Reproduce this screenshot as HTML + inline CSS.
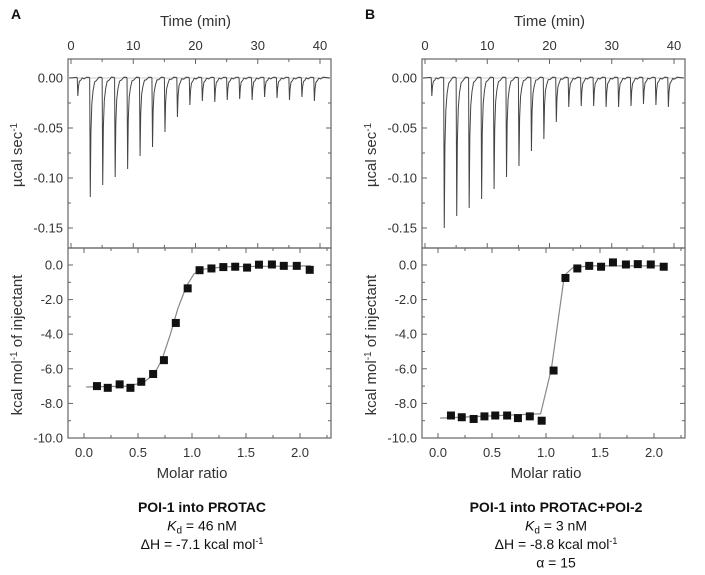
<!DOCTYPE html>
<html><head><meta charset="utf-8">
<style>
body{margin:0;background:#fff;}
svg{display:block;font-family:"Liberation Sans",sans-serif;}
.tk{font-size:13px;fill:#333;}
.ttl{font-size:15px;fill:#333;}
.cap{font-size:14px;fill:#111;}
</style></head>
<body>
<svg id="chart" width="705" height="575" viewBox="0 0 705 575" xmlns="http://www.w3.org/2000/svg"></svg>
<script>
// ---- data ----
const injTimes = [1,3,5,7,9,11,13,15,17,19,21,23,25,27,29,31,33,35,37,39];
const peaksA = [-0.018,-0.119,-0.107,-0.099,-0.091,-0.078,-0.069,-0.054,-0.039,-0.027,-0.023,-0.024,-0.022,-0.021,-0.022,-0.019,-0.020,-0.022,-0.019,-0.023];
const peaksB = [-0.018,-0.150,-0.138,-0.130,-0.121,-0.111,-0.099,-0.088,-0.073,-0.061,-0.044,-0.029,-0.028,-0.028,-0.029,-0.029,-0.028,-0.026,-0.027,-0.029];
const molarRatio = [0.12,0.22,0.33,0.43,0.53,0.64,0.74,0.85,0.96,1.07,1.18,1.29,1.40,1.51,1.62,1.74,1.85,1.97,2.09];
const heatA = [-7.0,-7.1,-6.9,-7.1,-6.75,-6.3,-5.5,-3.35,-1.35,-0.3,-0.2,-0.12,-0.1,-0.15,0.02,0.03,-0.05,-0.05,-0.28];
const heatB = [-8.7,-8.8,-8.9,-8.75,-8.7,-8.7,-8.85,-8.75,-9.0,-6.1,-0.75,-0.2,-0.05,-0.1,0.15,0.03,0.05,0.03,-0.1];
const fitXA = [0.02,0.4,0.55,0.65,0.72,0.8,0.87,0.95,1.02,1.1,1.3,2.1];
const fitYA = [-7.05,-7.0,-6.8,-6.3,-5.5,-4.0,-2.5,-1.2,-0.5,-0.25,-0.1,-0.05];
const fitXB = [0.02,0.95,1.05,1.17,1.25,1.4,2.1];
const fitYB = [-8.85,-8.6,-6.0,-0.6,-0.15,-0.05,-0.05];
const timeTicks = [0,10,20,30,40];
const powerTicks = [0,-0.05,-0.10,-0.15];
const heatTicks = [0,-2,-4,-6,-8,-10];
const ratioTicks = [0,0.5,1.0,1.5,2.0];

const svg = document.getElementById('chart');
const NS = 'http://www.w3.org/2000/svg';
function mk(tag, attrs, parent){
  const e = document.createElementNS(NS, tag);
  for (const k in attrs) e.setAttribute(k, attrs[k]);
  (parent||svg).appendChild(e);
  return e;
}

function panel(dx, letter, peaks, heat, fx, fy, capLines, key){
  const g = mk('g', {});
  
  
  const L = 68+dx, R = 331+dx, T = 59, M = 248, B = 438;
  const tx = t => 71+dx + t*(249/40);
  const py = v => 78 + (-v)*(150/0.15);
  const rx = r => 84+dx + r*(216/2);
  const hy = h => 265 + (-h)*(173/10);

  let t = mk('text', {x:11+dx, y:19, 'font-size':14, 'font-weight':'bold', fill:'#111'}, g);
  t.textContent = letter;
  
  

  let f1 = mk('rect', {x:L, y:T, width:R-L, height:M-T, fill:'none', stroke:'#666', 'stroke-width':1.2}, g);
  
  
  let f2 = mk('rect', {x:L, y:M, width:R-L, height:B-M, fill:'none', stroke:'#666', 'stroke-width':1.2}, g);
  
  

  for (let v=0; v<=40; v+=5){
    const x = tx(v), len = v%10===0 ? 5 : 3;
    mk('line', {x1:x, x2:x, y1:T, y2:T+len, stroke:'#666'}, g);
    mk('line', {x1:x, x2:x, y1:M, y2:M-len, stroke:'#666'}, g);
  }
  timeTicks.forEach(v=>{
    const e = mk('text', {x:tx(v), y:50, 'text-anchor':'middle', class:'tk'}, g);
    e.textContent = v;
    
    
  });
  t = mk('text', {x:tx(20), y:26, 'text-anchor':'middle', class:'ttl'}, g);
  t.textContent = 'Time (min)';
  
  

  for (let v=0.0; v>=-0.17; v-=0.025){
    const y = py(v); if (y>M-2) break;
    const len = Math.abs(Math.round(v*1000)%50)===0 ? 5 : 3;
    mk('line', {x1:L, x2:L+len, y1:y, y2:y, stroke:'#666'}, g);
    mk('line', {x1:R, x2:R-len, y1:y, y2:y, stroke:'#666'}, g);
  }
  powerTicks.forEach(v=>{
    const e = mk('text', {x:L-5, y:py(v)+4.5, 'text-anchor':'end', class:'tk'}, g);
    e.textContent = v.toFixed(2);
    
    
  });
  t = mk('text', {transform:`translate(${22+dx},155) rotate(-90)`, 'text-anchor':'middle', class:'ttl'}, g);
  t.innerHTML = 'µcal sec<tspan baseline-shift="super" font-size="10">-1</tspan>';
  
  

  mk('line', {x1:L, x2:R, y1:py(0), y2:py(0), stroke:'#bbb', 'stroke-width':0.8}, g);

  let d = `M${L+1},${py(0)}`;
  injTimes.forEach((ti,i)=>{
    const depth = peaks[i];
    d += ` L${tx(ti)-0.5},${py(0.0006)}`;
    d += ` L${tx(ti)},${py(0)}`;
    d += ` L${tx(ti)+0.6},${py(depth)}`;
    const steps = [0.2,0.35,0.55,0.8,1.1,1.5];
    const fr = [0.45,0.22,0.1,0.04,0.015,0];
    steps.forEach((s,k)=>{ d += ` L${tx(ti+s)},${py(depth*fr[k] + (k%2?0.0008:-0.0006))}`; });
  });
  d += ` L${R-1},${py(0)}`;
  let p = mk('path', {d:d, fill:'none', stroke:'#444', 'stroke-width':1}, g);
  
  

  for (let v=0; v<=2.25; v+=0.25){
    const x = rx(v), len = Math.round(v*100)%50===0 ? 5 : 3;
    mk('line', {x1:x, x2:x, y1:B, y2:B-len, stroke:'#666'}, g);
    mk('line', {x1:x, x2:x, y1:M, y2:M+len, stroke:'#666'}, g);
  }
  for (let v=1; v>=-10; v-=1){
    const y = hy(v), len = v%2===0 ? 5 : 3;
    if (y<=M+1) continue;
    mk('line', {x1:L, x2:L+len, y1:y, y2:y, stroke:'#666'}, g);
    mk('line', {x1:R, x2:R-len, y1:y, y2:y, stroke:'#666'}, g);
  }
  ratioTicks.forEach(v=>{
    const e = mk('text', {x:rx(v), y:457, 'text-anchor':'middle', class:'tk'}, g);
    e.textContent = v.toFixed(1);
    
    
  });
  heatTicks.forEach(v=>{
    const e = mk('text', {x:L-5, y:hy(v)+4.5, 'text-anchor':'end', class:'tk'}, g);
    e.textContent = v.toFixed(1);
    
    
  });
  t = mk('text', {x:rx(1.0), y:478, 'text-anchor':'middle', class:'ttl'}, g);
  t.textContent = 'Molar ratio';
  
  
  t = mk('text', {transform:`translate(${22+dx},345) rotate(-90)`, 'text-anchor':'middle', class:'ttl'}, g);
  t.innerHTML = 'kcal mol<tspan baseline-shift="super" font-size="10">-1</tspan> of injectant';
  
  

  const fd = fx.map((x,i)=>(i?'L':'M')+rx(x)+','+hy(fy[i])).join(' ');
  p = mk('path', {d:fd, fill:'none', stroke:'#888', 'stroke-width':1.2}, g);
  
  

  molarRatio.forEach((r,i)=>{
    const s = mk('rect', {x:rx(r)-4, y:hy(heat[i])-4, width:8, height:8, fill:'#111'}, g);
    
    
  });

  const cx = rx(1.0)+10;
  capLines.forEach((ln,i)=>{
    const e = mk('text', {x:cx, y:512+i*18.5, 'text-anchor':'middle', class:'cap'}, g);
    e.innerHTML = ln;
    if (i===0) e.setAttribute('font-weight','bold');
    
    
  });
}

panel(0, 'A', peaksA, heatA, fitXA, fitYA,
  ['POI-1 into PROTAC',
   '<tspan font-style="italic">K</tspan><tspan font-size="10" dy="3">d</tspan><tspan dy="-3"> = 46 nM</tspan>',
   'ΔH = -7.1 kcal mol<tspan baseline-shift="super" font-size="9">-1</tspan>'], 'a');
panel(354, 'B', peaksB, heatB, fitXB, fitYB,
  ['POI-1 into PROTAC+POI-2',
   '<tspan font-style="italic">K</tspan><tspan font-size="10" dy="3">d</tspan><tspan dy="-3"> = 3 nM</tspan>',
   'ΔH = -8.8 kcal mol<tspan baseline-shift="super" font-size="9">-1</tspan>',
   'α = 15'], 'b');
</script>
</body></html>
